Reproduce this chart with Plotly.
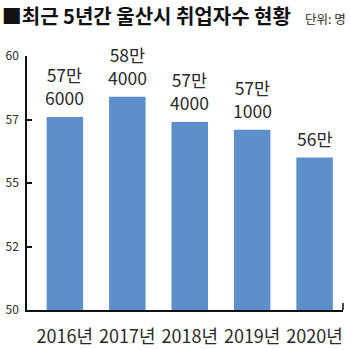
import plotly.graph_objects as go

# 울산시 취업자수 (명)
years = ["2016년", "2017년", "2018년", "2019년", "2020년"]
workers = [576000, 584000, 574000, 571000, 560000]

# y축 눈금 (단위: 만 명)
y_tickvals = [50, 52.5, 55, 57.5, 60]
y_ticktext = ["50", "52", "55", "57", "60"]

BAR_COLOR = "#5d8fca"
TEXT_COLOR = "#2b2b2b"
NUM_FONT = "Liberation Sans Narrow, Noto Sans CJK KR, sans-serif"
KR_FONT = "Noto Sans CJK KR, sans-serif"

values_man = [w / 10000 for w in workers]

fig = go.Figure()
fig.add_trace(go.Bar(
    x=years,
    y=values_man,
    marker=dict(color=BAR_COLOR, line=dict(width=0)),
    hoverinfo="skip",
))

# 막대 위 값 라벨: "57만<br>6000"
annotations = []
for yr, w, v in zip(years, workers, values_man):
    man, rest = divmod(w, 10000)
    lines = [f"{man}만"] + ([f"{rest}"] if rest else [])
    annotations.append(dict(
        x=yr, y=v, xref="x", yref="y",
        text="<br>".join(lines), showarrow=False,
        yanchor="bottom", xanchor="center",
        yshift=5,
        font=dict(family=NUM_FONT, size=17.5, color=TEXT_COLOR),
    ))

annotations.append(dict(
    x=1, y=1, xref="paper", yref="paper",
    text="단위: 명", showarrow=False,
    xanchor="right", yanchor="middle",
    xshift=5, yshift=38,
    font=dict(family=KR_FONT, size=12.5, color=TEXT_COLOR),
))

fig.update_layout(
    width=350, height=350,
    margin=dict(l=27, r=7, t=56, b=40, autoexpand=False),
    paper_bgcolor="white", plot_bgcolor="white",
    bargap=0.415,
    showlegend=False,
    title=dict(
        text="<b>■최근 5년간 울산시 취업자수 현황</b>",
        x=0.005, xanchor="left", xref="container",
        y=1 - 17 / 350, yanchor="middle", yref="container",
        font=dict(family=KR_FONT, size=20, color="#111111"),
    ),
    annotations=annotations,
    shapes=[dict(
        type="line", xref="paper", yref="paper",
        x0=1, x1=1, y0=0, y1=0.028,
        line=dict(color="#111111", width=1.5),
    )],
)

fig.update_xaxes(
    range=[-0.607, 4.455],
    automargin=False,
    showline=True, linecolor="#111111", linewidth=1.5,
    ticks="", showgrid=False, zeroline=False,
    tickfont=dict(family=NUM_FONT, size=18, color=TEXT_COLOR),
    ticklabelstandoff=10,
)
fig.update_yaxes(
    range=[50, 60],
    automargin=False,
    tickvals=y_tickvals, ticktext=y_ticktext,
    showline=True, linecolor="#111111", linewidth=1.5,
    ticks="inside", ticklen=5, tickcolor="#111111", tickwidth=1.5,
    showgrid=False, zeroline=False,
    tickfont=dict(family=NUM_FONT, size=12, color=TEXT_COLOR),
    ticklabelstandoff=4,
)

fig.write_html("out.html")
